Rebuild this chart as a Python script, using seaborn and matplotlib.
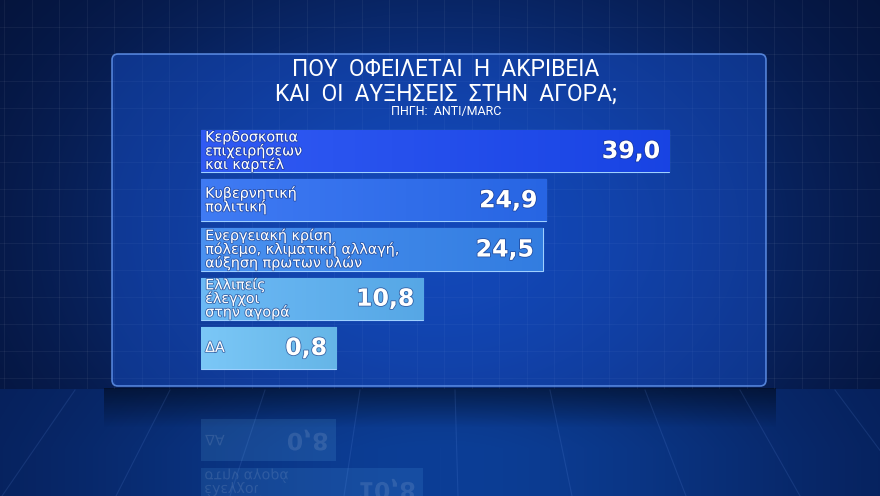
import numpy as np
import pandas as pd
import matplotlib
matplotlib.use("Agg")
import matplotlib.pyplot as plt
import matplotlib.patheffects as pe
import matplotlib.transforms as mtrans
import seaborn as sns
from matplotlib.patches import FancyBboxPatch, PathPatch
from matplotlib.textpath import TextPath
from matplotlib.font_manager import FontProperties

# --- data ---
title_lines = ["ΠΟΥ  ΟΦΕΙΛΕΤΑΙ  Η  ΑΚΡΙΒΕΙΑ", "ΚΑΙ  ΟΙ  ΑΥΞΗΣΕΙΣ  ΣΤΗΝ  ΑΓΟΡΑ;"]
source = "ΠΗΓΗ:  ANTI/MARC"
categories = [
    "Κερδοσκοπια\nεπιχειρήσεων\nκαι καρτέλ",
    "Κυβερνητική\nπολιτική",
    "Ενεργειακή κρίση\nπόλεμο, κλιματική αλλαγή,\nαύξηση πρωτων υλών",
    "Ελλιπείς\nέλεγχοι\nστην αγορά",
    "ΔΑ",
]
values = [39.0, 24.9, 24.5, 10.8, 0.8]
value_labels = ["39,0", "24,9", "24,5", "10,8", "0,8"]
bar_colors = ["#1a48f2", "#2a6cf2", "#3685ef", "#5cb2f4", "#6cc1f6"]

W, H = 880, 496
PX_PER_UNIT = 8.72      # bar length per percentage point
LABEL_ROOM = 14.7       # fixed stub the graphic adds in front of every bar
MIRROR_Y = 394          # floor line for the reflection (pixels from top)

df = pd.DataFrame({"cat": categories, "value": values, "label": value_labels})
df["length"] = df["value"] + LABEL_ROOM

fig = plt.figure(figsize=(W / 100, H / 100), dpi=100)

# background: dark studio blue with a glow in the middle
yy, xx = np.mgrid[0:H, 0:W]
u = (xx - 440) / 440
v = (yy - 230) / 300
glow = np.exp(-(u ** 2 * 1.5 + v ** 2 * 1.3))
dark = np.array([4, 16, 50]) / 255
bright = np.array([14, 62, 160]) / 255
img = dark + (bright - dark) * glow[..., None]
floor = yy > 388
fglow = np.exp(-(u ** 2 * 1.4)) * (0.8 + 0.2 * np.clip((yy - 388) / 60, 0, 1))
f_dark = np.array([5, 26, 78]) / 255
f_bright = np.array([12, 62, 150]) / 255
floor_col = f_dark + (f_bright - f_dark) * fglow[..., None]
img[floor] = floor_col[floor]

bg = fig.add_axes([0, 0, 1, 1])
bg.imshow(img, extent=[0, W, H, 0], aspect="auto", zorder=0)
for gx in np.arange(4, W, 27.5):
    bg.plot([gx, gx], [0, 388], color="white", alpha=0.05, lw=0.8)
for gy in np.arange(27, 388, 27):
    bg.plot([0, W], [gy, gy], color="white", alpha=0.05, lw=0.8)
for hx in np.arange(-400, 1300, 95):
    bg.plot([hx, 440 + (hx - 440) * 1.2], [390, H], color="#7aa8ff", alpha=0.13, lw=0.8)
# shadow under the panel
shade = np.zeros((40, 1, 4))
shade[:, 0, 3] = np.linspace(0.45, 0, 40)
bg.imshow(shade, extent=[104, 776, 428, 388], aspect="auto", zorder=1)
bg.add_patch(FancyBboxPatch((112, 54), 654, 332, boxstyle="round,pad=0,rounding_size=6",
                            facecolor=(0.10, 0.34, 0.86, 0.42), edgecolor=(0.40, 0.60, 0.95, 0.8),
                            lw=1.2, zorder=2))
bg.set_xlim(0, W)
bg.set_ylim(H, 0)
bg.axis("off")

# titles
for txt, ty, size in [(title_lines[0], 70, 16.5), (title_lines[1], 94, 16.5), (source, 111, 9)]:
    bg.text(446, ty, txt, color="white", fontsize=size, family="Roboto",
            ha="center", va="center", zorder=3)

# bars
ax_w, ax_h = 500, 246
top_px = 126.5
ax = fig.add_axes([201 / W, 1 - (top_px + ax_h) / H, ax_w / W, ax_h / H])
sns.barplot(data=df, x="length", y="cat", hue="cat", palette=bar_colors, legend=False,
            orient="h", width=0.86, errorbar=None, saturation=1, ax=ax,
            edgecolor="#9fd0ff", linewidth=0.8)
ax.set_xlim(0, ax_w / PX_PER_UNIT)
ax.set_ylim(4.5, -0.5)
ax.axis("off")

# soft left-to-right shading inside each bar
for p in sorted(ax.patches, key=lambda b: b.get_y()):
    x0, y0 = p.get_x(), p.get_y()
    x1, y1 = x0 + p.get_width(), y0 + p.get_height()
    base = np.array(matplotlib.colors.to_rgb(p.get_facecolor()))
    t = np.linspace(0, 1, 64)[None, :, None]
    grad = (base + (1 - base) * 0.10) * (1 - t) + base * 0.94 * t
    im = ax.imshow(grad, extent=[x0, x1, y1, y0], aspect="auto", zorder=p.get_zorder() + 0.1)
    im.set_clip_path(p)
ax.set_xlim(0, ax_w / PX_PER_UNIT)
ax.set_ylim(4.5, -0.5)

line_pitch = 9.8
label_size = 10.3
outline = [pe.withStroke(linewidth=1.2, foreground="#16307a", alpha=0.6)]
label_lines = []   # (display x, display y, text, size, weight, ha)
for i, row in df.iterrows():
    lines = row["cat"].split("\n")
    n = len(lines)
    for j, line in enumerate(lines):
        off = ((n - 1) / 2 - j) * line_pitch
        ax.annotate(line, xy=(0, i), xytext=(3, off), textcoords="offset points",
                    ha="left", va="center", color="white", fontsize=label_size,
                    family="DejaVu Sans", path_effects=outline, zorder=5)
        dx, dy = ax.transData.transform((0, i))
        label_lines.append((dx + 3 * 100 / 72, dy + off * 100 / 72, line, label_size, "normal", "left"))
    ax.annotate(row["label"], xy=(row["length"], i), xytext=(-6.5, 0), textcoords="offset points",
                ha="right", va="center", color="white", fontsize=17, fontweight="bold",
                family="DejaVu Sans", path_effects=outline, zorder=5)
    dx, dy = ax.transData.transform((row["length"], i))
    label_lines.append((dx - 6.5 * 100 / 72, dy, row["label"], 17, "bold", "right"))

# faint reflection on the floor
mirror_disp = H - MIRROR_Y
ax_r = fig.add_axes([201 / W, 1 - (2 * MIRROR_Y - top_px) / H, ax_w / W, ax_h / H])
sns.barplot(data=df, x="length", y="cat", hue="cat", palette=bar_colors, legend=False,
            orient="h", width=0.86, errorbar=None, saturation=1, ax=ax_r, alpha=0.14, linewidth=0)
ax_r.set_xlim(0, ax_w / PX_PER_UNIT)
ax_r.set_ylim(-0.5, 4.5)
ax_r.axis("off")

for x_d, y_d, s, size, weight, ha in label_lines:
    tp = TextPath((0, 0), s, size=size, prop=FontProperties(family="DejaVu Sans", weight=weight))
    bb = tp.get_extents()
    ax_x = bb.x0 if ha == "left" else bb.x1
    cy = (bb.y0 + bb.y1) / 2
    tr = (mtrans.Affine2D().translate(-ax_x, -cy).scale(100 / 72, -100 / 72)
          .translate(x_d, 2 * mirror_disp - y_d))
    fig.add_artist(PathPatch(tp, transform=tr, facecolor="white", alpha=0.11, lw=0))

fig.savefig("out.png", dpi=100)
